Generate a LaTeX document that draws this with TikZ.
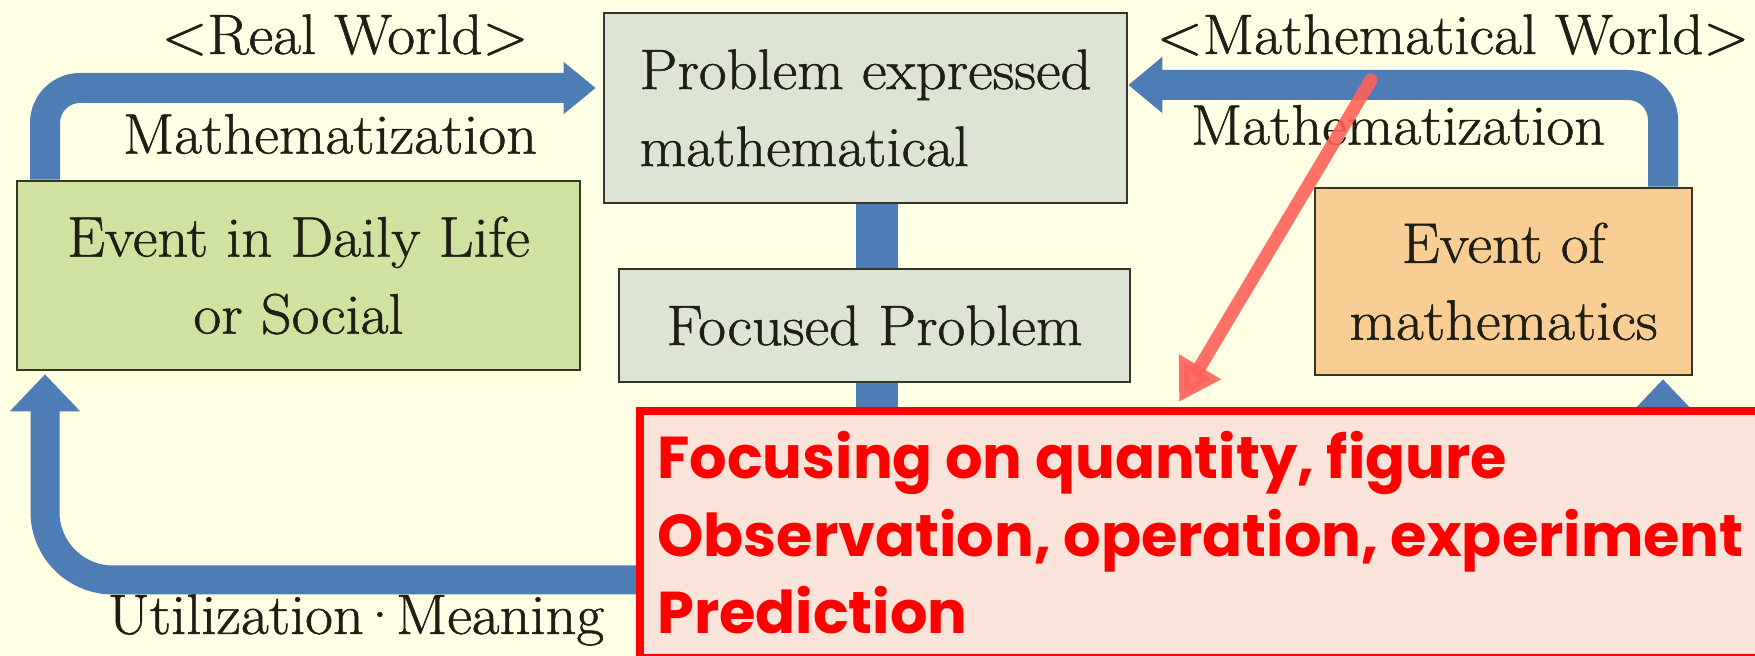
\documentclass[tikz,border=0pt]{standalone}
\usepackage{fontspec}
\newfontfamily\redfont{Poppins}
\newfontfamily\lblfont{Latin Modern Roman}[FakeBold=0.9, FakeStretch=1.06]
\usetikzlibrary{arrows.meta}
\definecolor{bgc}{HTML}{FFFFE4}
\definecolor{arrowblue}{HTML}{4E7CB4}
\definecolor{greenfill}{HTML}{D0E2A0}
\definecolor{grayfill}{HTML}{DEE4D4}
\definecolor{orangefill}{HTML}{F8CE94}
\definecolor{boxedge}{HTML}{35352A}
\definecolor{txt}{HTML}{1E1E14}
\definecolor{redline}{HTML}{FF0000}
\definecolor{redfill}{HTML}{FAE4DA}
\definecolor{ptr}{HTML}{FF625A}
\tikzset{
  mainfont/.style={font=\lblfont\fontsize{28.5}{38.5}\selectfont},
  box/.style={draw=boxedge, line width=1.3pt, inner sep=0pt, text=txt, mainfont},
  lbl/.style={text=txt, inner sep=0pt, mainfont},
  flow/.style={draw=arrowblue, line width=15pt},
  flowlow/.style={draw=arrowblue, line width=14.5pt},
  bar/.style={draw=arrowblue, line width=21pt},
  redbox/.style={draw=redline, line width=4pt, fill=redfill, inner sep=0pt},
  redtext/.style={text=redline, inner sep=0pt, font=\redfont\bfseries\fontsize{29.5}{39}\selectfont},
  pointer/.style={draw=ptr, opacity=0.9, line width=6.5pt, line cap=round,
    -{Triangle[length=20.5pt,width=23pt]}}
}
\begin{document}
\begin{tikzpicture}[x=0.5pt,y=-0.5pt]
\useasboundingbox (0,0) rectangle (1755,656);
\clip (0,0) rectangle (1755,656);
\fill[bgc] (0,0) rectangle (1755,656);

% box nodes (first pass, gives the names)
\path
  (298.5,275.5) node[box, fill=greenfill, minimum width=281.5pt, minimum height=94.5pt, align=center] (green) {Event in Daily Life\\or Social}
  (865.5,108)   node[box, fill=grayfill, minimum width=261.5pt, minimum height=95pt, align=left] (prob) {Problem expressed\\mathematical}
  (874.5,325.5) node[box, fill=grayfill, minimum width=255.5pt, minimum height=56.5pt, align=center] (foc) {Focused Problem}
  (1503.5,281.5) node[box, fill=orangefill, minimum width=188.5pt, minimum height=93.5pt, align=center] (orange) {Event of\\mathematics};

% helper coordinates
\coordinate (tlc) at (45,88);
\coordinate (trc) at (1663,85);
\coordinate (vb) at (877,0);
\coordinate (bot) at (877,580);

% blue flows
\draw[flow, rounded corners=17.5pt, -{Triangle[length=16pt,width=25pt]}, shorten >=3.5pt]
  (tlc |- green.north) |- (prob.west |- tlc);
\draw[flow, rounded corners=17.5pt, -{Triangle[length=17pt,width=27pt]}]
  (trc |- orange.north) |- (prob.east |- trc);
\draw[bar] (vb |- prob.south) -- (vb |- foc.north);
\draw[bar] (vb |- foc.south) -- (bot);
\draw[flowlow, rounded corners=34pt, -{Triangle[length=18.5pt,width=34pt]}, shorten >=1.5pt]
  (bot) -| (tlc |- green.south);
\draw[flowlow, rounded corners=34pt, -{Triangle[length=18.5pt,width=34pt]}, shorten >=1.5pt]
  (bot) -| (trc |- orange.south);

% boxes again, on top of the flow ends
\path
  (298.5,275.5) node[box, fill=greenfill, minimum width=281.5pt, minimum height=94.5pt, align=center] {Event in Daily Life\\or Social}
  (865.5,108)   node[box, fill=grayfill, minimum width=261.5pt, minimum height=95pt, align=left] {Problem expressed\\mathematical}
  (874.5,325.5) node[box, fill=grayfill, minimum width=255.5pt, minimum height=56.5pt, align=center] {Focused Problem}
  (1503.5,281.5) node[box, fill=orangefill, minimum width=188.5pt, minimum height=93.5pt, align=center] {Event of\\mathematics};

% labels
\node[lbl] (rw) at (345,35) {<Real World>};
\node[lbl] (mw) at (1453,35) {<Mathematical World>};
\node[lbl] (mzl) at (330,134) {Mathematization};
\node[lbl] (mzr) at (1398,125) {Mathematization};
\node[lbl] (util) at (356,620) {Utilization\kern-0.1em·\kern-0.1em Meaning};

% red note box
\node[redbox, anchor=north west, minimum width=582pt, minimum height=123.5pt] (note) at (636,407) {};
\node[redtext, anchor=base west] (r1) at (657,479) {Focusing on quantity, figure};
\node[redtext, anchor=base west] (r2) at (657,557) {Observation, operation, experiment};
\node[redtext, anchor=base west] (r3) at (657,634) {Prediction};

% pointer
\coordinate (ptrs) at (1371,80);
\coordinate (ptre) at (1179,402);
\draw[pointer] (ptrs) -- (ptre);
\end{tikzpicture}
\end{document}
